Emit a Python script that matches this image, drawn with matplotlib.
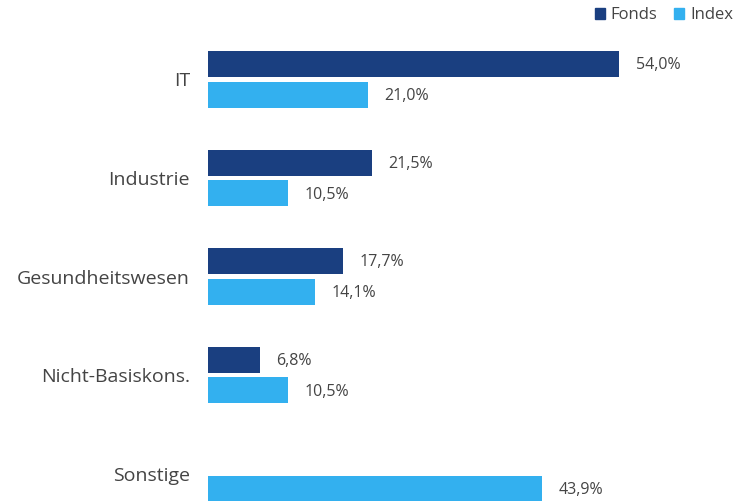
import numpy as np
import matplotlib.pyplot as plt
from matplotlib.patches import Patch

categories = ['IT', 'Industrie', 'Gesundheitswesen', 'Nicht-Basiskons.', 'Sonstige']
fonds = [54.0, 21.5, 17.7, 6.8, None]
index = [21.0, 10.5, 14.1, 10.5, 43.9]

c_fonds = '#1a3f80'
c_index = '#33b0ef'
txt = '#444444'

plt.rcParams['font.family'] = ['Open Sans', 'DejaVu Sans']

fig = plt.figure(figsize=(7.48, 5.01), dpi=100)
ax = fig.add_axes([208 / 748, 0, 540 / 748, 1])

y = np.arange(len(categories))
h = 0.264
off = 0.157


def label(v, yy):
    ax.annotate(f'{v:.1f}%'.replace('.', ','), (v, yy), xytext=(12, -1),
                textcoords='offset points', va='center', ha='left',
                fontsize=11.5, color=txt)


for i, v in enumerate(fonds):
    if v is None:
        continue
    ax.barh(y[i] - off, v, height=h, color=c_fonds)
    label(v, y[i] - off)

for i, v in enumerate(index):
    ax.barh(y[i] + off, v, height=h, color=c_index)
    label(v, y[i] + off)

ax.set_xlim(0, 540 / 7.61)
ax.set_ylim(4.279, -0.807)
ax.set_yticks(y)
ax.set_yticklabels(categories, fontsize=14, color=txt)
ax.tick_params(axis='y', length=0, pad=13)
ax.set_xticks([])
for s in ax.spines.values():
    s.set_visible(False)

handles = [Patch(color=c_fonds, label='Fonds'), Patch(color=c_index, label='Index')]
fig.legend(handles=handles, loc='upper right', bbox_to_anchor=(1.0, 1.015), ncol=2,
           frameon=False, fontsize=12, handlelength=0.6, handleheight=0.6,
           handletextpad=0.35, columnspacing=1.0, labelcolor=txt)

fig.savefig('out.png', dpi=100)
